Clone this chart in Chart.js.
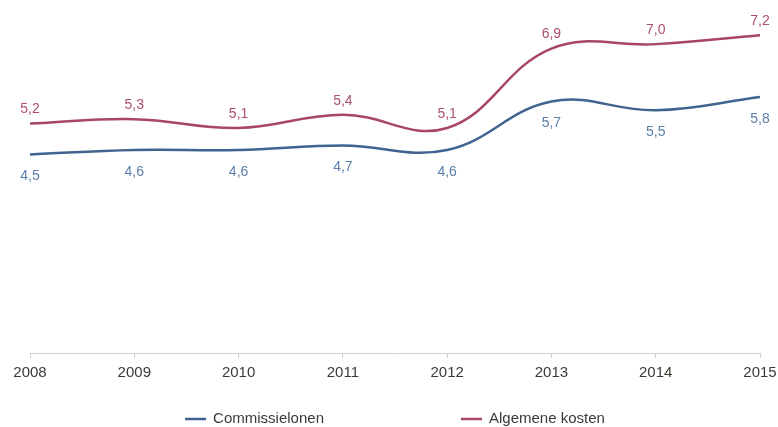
<!DOCTYPE html>
<html>
<head>
<meta charset="utf-8">
<script src="https://cdn.jsdelivr.net/npm/chart.js@4"></script>
<style>
  html, body { margin: 0; padding: 0; background: #fff; }
  #wrap { width: 778px; height: 427px; }
</style>
</head>
<body>
<div id="wrap"><canvas id="lineChart"></canvas></div>
<script>
var jaren = ['2008', '2009', '2010', '2011', '2012', '2013', '2014', '2015'];
var commissielonen = [4.5, 4.6, 4.6, 4.7, 4.6, 5.7, 5.5, 5.8];
var algemeneKosten = [5.2, 5.3, 5.1, 5.4, 5.1, 6.9, 7.0, 7.2];

var blauw = '#41638f';
var rood = '#a8456b';
var blauwTekst = '#5b80aa';
var roodTekst = '#ad4d74';

// waarden boven (rood) en onder (blauw) de lijn, met komma als decimaalteken
var waardeLabels = {
    id: 'waardeLabels',
    afterDatasetsDraw: function (chart) {
        var c = chart.ctx;
        c.save();
        c.font = '14px "Liberation Sans", Arial, sans-serif';
        c.textAlign = 'center';
        c.textBaseline = 'middle';
        chart.data.datasets.forEach(function (ds, i) {
            var meta = chart.getDatasetMeta(i);
            meta.data.forEach(function (pt, j) {
                var tekst = ds.data[j].toFixed(1).replace('.', ',');
                c.fillStyle = ds.labelKleur;
                c.fillText(tekst, pt.x, pt.y + ds.labelAfstand);
            });
        });
        c.restore();
    }
};

// legenda onder de as, gecentreerd op het tekengebied
var legenda = {
    id: 'legenda',
    afterDraw: function (chart) {
        var c = chart.ctx;
        var area = chart.chartArea;
        var lijn = 21, tussen = 7, ruimte = 137;
        c.save();
        c.font = '15px "Liberation Sans", Arial, sans-serif';
        c.textBaseline = 'middle';
        var items = chart.data.datasets.map(function (ds) {
            return { ds: ds, w: lijn + tussen + c.measureText(ds.label).width };
        });
        var totaal = items.reduce(function (s, it) { return s + it.w; }, 0) + ruimte * (items.length - 1);
        var x = (area.left + area.right) / 2 - totaal / 2;
        var y = chart.height - 8;
        items.forEach(function (it) {
            c.strokeStyle = it.ds.borderColor;
            c.lineWidth = 2.5;
            c.beginPath();
            c.moveTo(x, y);
            c.lineTo(x + lijn, y);
            c.stroke();
            c.fillStyle = '#3b3b35';
            c.fillText(it.ds.label, x + lijn + tussen, y);
            x += it.w + ruimte;
        });
        c.restore();
    }
};

var ctx = document.getElementById('lineChart');
var myChart = new Chart(ctx, {
    type: 'line',
    data: {
        labels: jaren,
        datasets: [
            {
                label: 'Commissielonen',
                data: commissielonen,
                borderColor: blauw,
                labelKleur: blauwTekst,
                labelAfstand: 22,
                borderWidth: 2.5,
                pointRadius: 0,
                tension: 0.4,
                fill: false
            },
            {
                label: 'Algemene kosten',
                data: algemeneKosten,
                borderColor: rood,
                labelKleur: roodTekst,
                labelAfstand: -14,
                borderWidth: 2.5,
                pointRadius: 0,
                tension: 0.4,
                fill: false
            }
        ]
    },
    options: {
        responsive: true,
        maintainAspectRatio: false,
        animation: false,
        layout: {
            padding: { left: 30, right: 18, top: 0, bottom: 39 }
        },
        plugins: {
            legend: { display: false },
            tooltip: { enabled: false }
        },
        scales: {
            x: {
                offset: false,
                // jaartallen mogen tot aan de rand lopen
                afterFit: function (scale) {
                    scale.paddingLeft = 0;
                    scale.paddingRight = 0;
                },
                border: { color: '#cfcfcf', width: 1 },
                grid: {
                    drawOnChartArea: false,
                    drawTicks: true,
                    tickLength: 5,
                    color: '#cfcfcf'
                },
                ticks: {
                    color: '#3b3b35',
                    padding: 6,
                    maxRotation: 0,
                    font: { family: '"Liberation Sans", Arial, sans-serif', size: 15 }
                }
            },
            y: {
                display: false,
                min: 0,
                max: 8
            }
        }
    },
    plugins: [waardeLabels, legenda]
});
</script>
</body>
</html>
